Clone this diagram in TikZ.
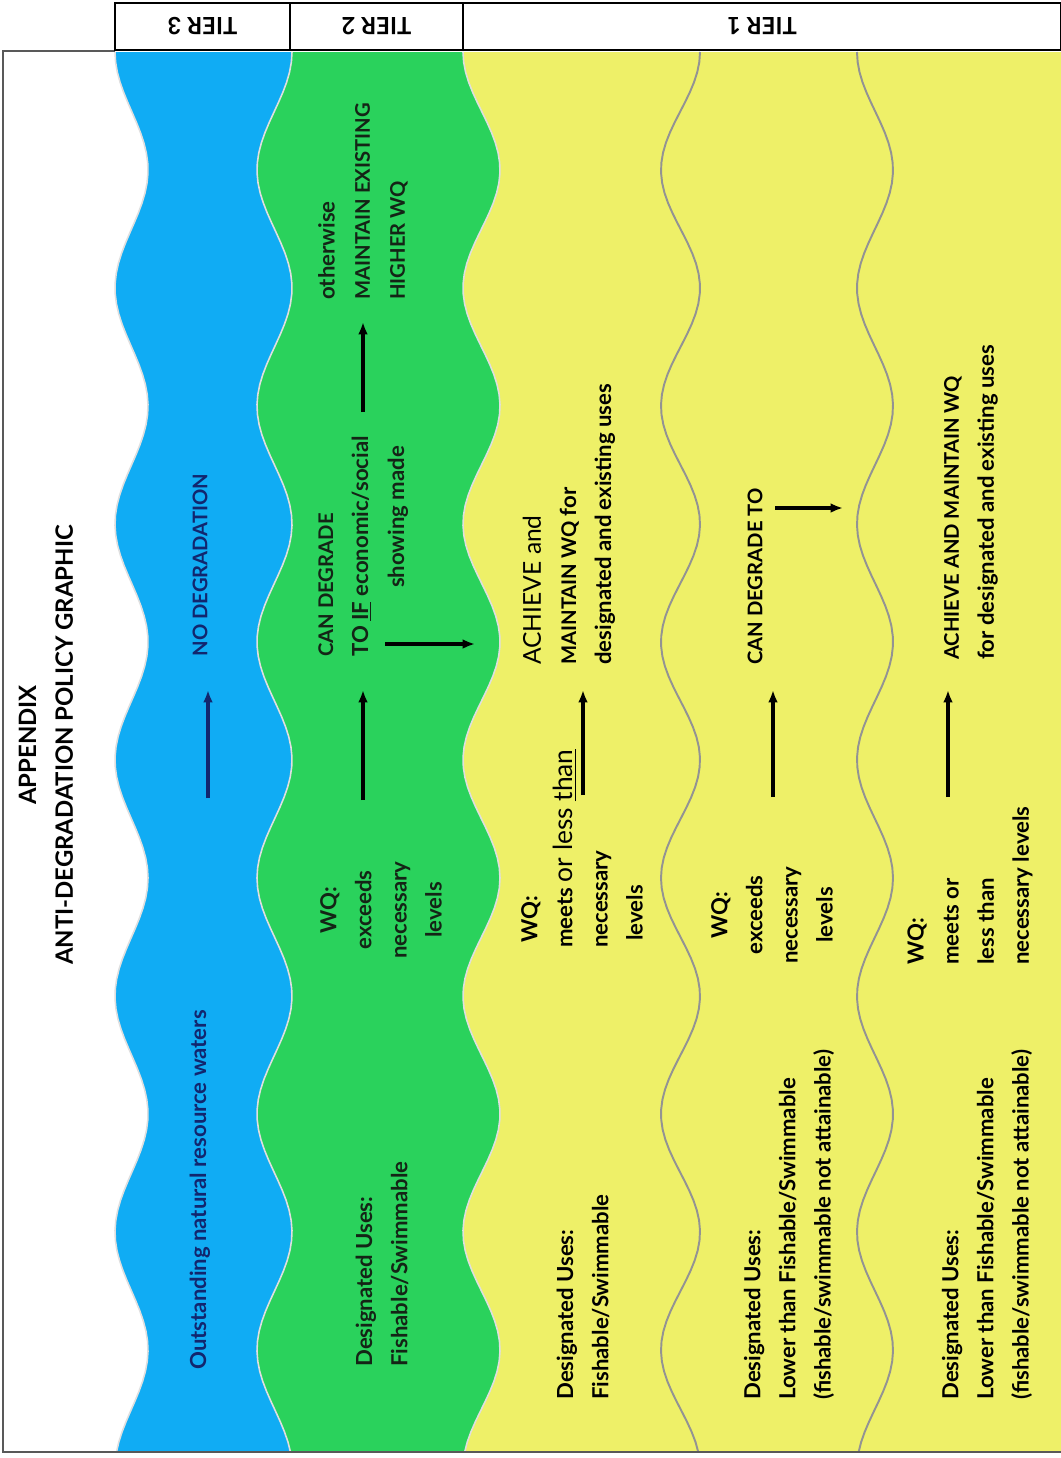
\documentclass[tikz,border=0pt]{standalone}
\usepackage{fontspec}
\setmainfont{Lato}
\usepackage{tikz}
\usetikzlibrary{arrows.meta, positioning, calc}

\definecolor{tierblue}{RGB}{16,172,244}
\definecolor{tiergreen}{RGB}{42,210,92}
\definecolor{tieryellow}{RGB}{238,240,104}
\definecolor{navytext}{RGB}{18,38,110}
\definecolor{greentext}{RGB}{20,36,22}

% capitals run a little narrower
\newcommand{\capline}[1]{{\fontsize{11.5}{20}\selectfont #1}}

\begin{document}
\begin{tikzpicture}[
    x=0.02cm, y=-0.02cm,
    >=Latex,
    tierbox/.style={draw, line width=0.8pt, rotate=180, minimum height=0.94cm,
                    font=\bfseries\fontsize{13.5}{16}\selectfont},
    titletxt/.style={rotate=90, align=center, inner sep=0pt,
                     font=\bfseries\fontsize{13.6}{21}\selectfont},
    bodytxt/.style={rotate=90, align=left, inner sep=0pt,
                    font=\bfseries\fontsize{12.6}{20}\selectfont},
    bluetxt/.style={bodytxt, text=navytext},
    greentxt/.style={bodytxt, text=greentext},
    yeltxt/.style={bodytxt, text=black},
    flow/.style={-{Latex[length=7pt,width=5.5pt]}, line width=1.8pt, black},
    edge/.style={white!75!gray, line width=0.9pt},
    divider/.style={gray!85, line width=1.1pt},
]
\useasboundingbox (0,0) rectangle (1061,1458);

% ============================================================
% Water bands (wavy edges, same phase for every band)
% ============================================================
\fill[tierblue] plot[variable=\t, domain=52:1452, samples=140]
        ({131.5-16.5*cos(1.5254*(\t-52))}, \t)
    -- plot[variable=\t, domain=1452:52, samples=140]
        ({274.5+17.5*cos(1.5254*(\t-52))}, \t) -- cycle;
\fill[tiergreen] plot[variable=\t, domain=52:1452, samples=140]
        ({274.5+17.5*cos(1.5254*(\t-52))}, \t)
    -- plot[variable=\t, domain=1452:52, samples=140]
        ({481.5-18.5*cos(1.5254*(\t-52))}, \t) -- cycle;
\fill[tieryellow] plot[variable=\t, domain=52:1452, samples=140]
        ({481.5-18.5*cos(1.5254*(\t-52))}, \t)
    -- (1061,1452) -- (1061,52) -- cycle;

\draw[edge] plot[variable=\t, domain=52:1452, samples=140]
        ({131.5-16.5*cos(1.5254*(\t-52))}, \t);
\draw[edge] plot[variable=\t, domain=52:1452, samples=140]
        ({274.5+17.5*cos(1.5254*(\t-52))}, \t);
\draw[edge] plot[variable=\t, domain=52:1452, samples=140]
        ({481.5-18.5*cos(1.5254*(\t-52))}, \t);

% Tier 1 dividers
\draw[divider] plot[variable=\t, domain=52:1452, samples=140]
        ({680.5+19.5*cos(1.5254*(\t-52))}, \t);
\draw[divider] plot[variable=\t, domain=52:1452, samples=140]
        ({875-18*cos(1.5254*(\t-52))}, \t);

% ============================================================
% Frame and tier headers
% ============================================================
\draw[line width=0.8pt, gray!70!black] (115,51) -- (3,51) -- (3,1452) -- (1061,1452);

\node[tierbox, minimum width=3.5cm]   (t3) at (202.5,26.5) {TIER 3};
\node[tierbox, minimum width=3.46cm]  (t2) at (376.5,26.5) {TIER 2};
\node[tierbox, minimum width=11.96cm] (t1) at (762,26.5)   {TIER 1};

\node[titletxt] (title) at (46,745) {APPENDIX\\ANTI-DEGRADATION POLICY GRAPHIC};

% ============================================================
% Tier 3
% ============================================================
\node[bluetxt] (onrw)  at (200,1190) {Outstanding natural resource waters};
\node[bluetxt] (nodeg) at (200,565)  {\capline{NO DEGRADATION}};

\coordinate (b1) at (208,798);
\coordinate (b2) at (208,690);
\draw[flow, navytext] (b1) -- (b2);

% ============================================================
% Tier 2
% ============================================================
\node[greentxt, anchor=west] (g1) at (382,1367) {Designated Uses:\\Fishable/Swimmable};
\node[greentxt, align=center] (g2) at (381,910) {WQ:\\exceeds\\necessary\\levels};
\node[greentxt, anchor=west] (g3) at (345,657) {\capline{CAN DEGRADE}\\TO \underline{IF} economic/social};
\node[greentxt] (g4) at (398,517) {showing made};
\node[greentxt, anchor=west] (g5) at (363,300)
    {otherwise\\\capline{MAINTAIN EXISTING}\\\capline{HIGHER WQ}};

\coordinate (ga1) at (363,800);
\coordinate (ga2) at (363,690);
\coordinate (ga3) at (385,644);
\coordinate (ga4) at (475,644);
\coordinate (ga5) at (363,412);
\coordinate (ga6) at (363,322);
\draw[flow] (ga1) -- (ga2);
\draw[flow] (ga3) -- (ga4);
\draw[flow] (ga5) -- (ga6);

% ============================================================
% Tier 1
% ============================================================
% fishable/swimmable
\node[yeltxt, anchor=west] (y1a) at (583,1400) {Designated Uses:\\Fishable/Swimmable};
\node[yeltxt, anchor=west] (y1b) at (582,948)
    {\hspace{3pt}WQ:\\meets {\mdseries\fontsize{15}{20}\selectfont or less \underline{than}}\\necessary\\\hspace{4pt}levels};
\node[yeltxt, anchor=west] (y1c) at (569,665)
    {{\mdseries\fontsize{14}{20}\selectfont ACHIEVE and}\\\capline{MAINTAIN WQ} for\\designated and existing uses};

\coordinate (ya1) at (583,795);
\coordinate (ya2) at (583,690);
\draw[flow] (ya1) -- (ya2);

% lower uses, exceeds
\node[yeltxt, anchor=west] (y2a) at (789,1400)
    {Designated Uses:\\Lower than Fishable/Swimmable\\(fishable/swimmable not attainable)};
\node[yeltxt, align=center] (y2b) at (772,915) {WQ:\\exceeds\\necessary\\levels};
\node[yeltxt, anchor=west] (y2c) at (755,665) {\capline{CAN DEGRADE TO}};

\coordinate (yb1) at (773,797);
\coordinate (yb2) at (773,690);
\coordinate (yb3) at (775,508);
\coordinate (yb4) at (843,508);
\draw[flow] (yb1) -- (yb2);
\draw[flow] (yb3) -- (yb4);

% lower uses, meets or less
\node[yeltxt, anchor=west] (y3a) at (987,1400)
    {Designated Uses:\\Lower than Fishable/Swimmable\\(fishable/swimmable not attainable)};
\node[yeltxt, anchor=west] (y3b) at (970,965) {WQ:\\meets or\\less than\\necessary levels};
\node[yeltxt, anchor=west] (y3c) at (971,660)
    {\capline{ACHIEVE AND MAINTAIN WQ}\\for designated and existing uses};

\coordinate (yc1) at (948,797);
\coordinate (yc2) at (948,690);
\draw[flow] (yc1) -- (yc2);

\end{tikzpicture}
\end{document}
